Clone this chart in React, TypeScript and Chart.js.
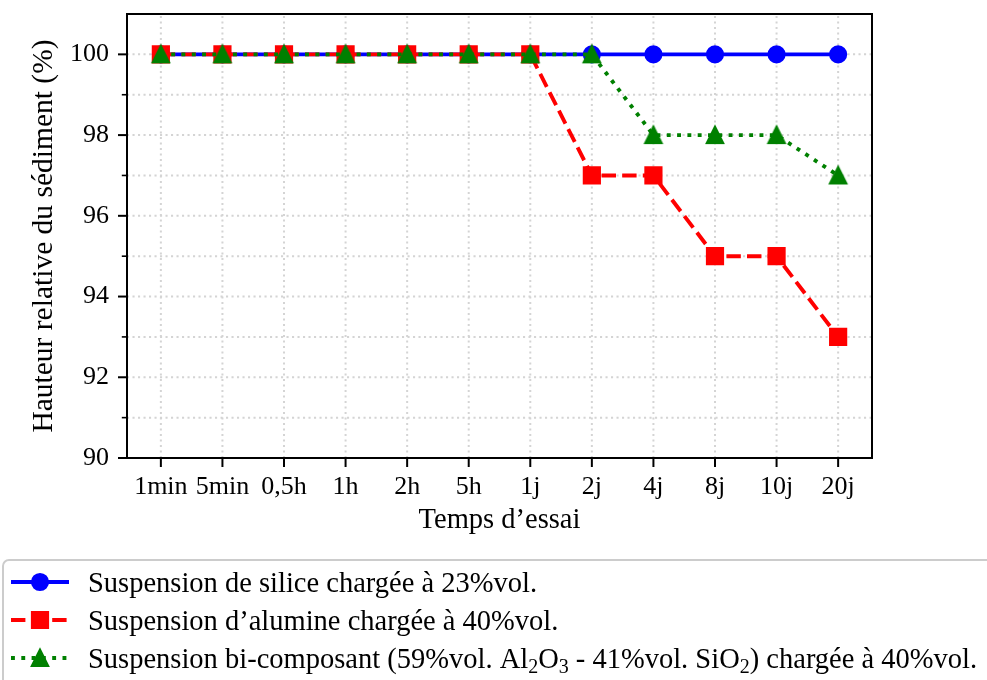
import React, { useEffect, useRef } from 'react';
import { Chart, registerables } from 'chart.js';

Chart.register(...registerables);

const categories = ['1min', '5min', '0,5h', '1h', '2h', '5h', '1j', '2j', '4j', '8j', '10j', '20j'];
const silice = [100, 100, 100, 100, 100, 100, 100, 100, 100, 100, 100, 100];
const alumine = [100, 100, 100, 100, 100, 100, 100, 97, 97, 95, 95, 93];
const biComposant = [100, 100, 100, 100, 100, 100, 100, 100, 98, 98, 98, 97];
const yTickLabels = [90, 92, 94, 96, 98, 100];
const yGridValues = [91, 92, 93, 94, 95, 96, 97, 98, 99, 100];
const yMin = 90;
const yMax = 101;
const xMin = -0.55;
const xMax = 11.55;
const xTitle = 'Temps d’essai';
const yTitle = 'Hauteur relative du sédiment (%)';

type Seg = { t: string; sub?: boolean };
const legendSilice: Seg[] = [{ t: 'Suspension de silice chargée à 23%vol.' }];
const legendAlumine: Seg[] = [{ t: 'Suspension d’alumine chargée à 40%vol.' }];
const legendBi: Seg[] = [
  { t: 'Suspension bi-composant (59%vol. Al' },
  { t: '2', sub: true },
  { t: 'O' },
  { t: '3', sub: true },
  { t: ' - 41%vol. SiO' },
  { t: '2', sub: true },
  { t: ') chargée à 40%vol.' },
];

const FONT = '"Liberation Serif", "Times New Roman", serif';
const FS = 26;
const FS_TEXT = 28.5;
const FS_YTITLE = 29.5;
const BLUE = '#0000ff';
const RED = '#ff0000';
const GREEN = '#008000';
const LW = 3.9;
const MEW = 2.6;
const MS = 15.6;
const RED_DASH = [14.4, 6.2];
const GREEN_DASH = [3.9, 6.4];

function makeTriangle(color: string): HTMLCanvasElement {
  const c = document.createElement('canvas');
  c.width = 28;
  c.height = 28;
  const g = c.getContext('2d')!;
  const cx = 14, cy = 14, h = MS / 2;
  g.beginPath();
  g.moveTo(cx, cy - h);
  g.lineTo(cx - h, cy + h);
  g.lineTo(cx + h, cy + h);
  g.closePath();
  g.fillStyle = color;
  g.fill();
  g.lineWidth = MEW;
  g.lineJoin = 'miter';
  g.strokeStyle = color;
  g.stroke();
  return c;
}

function drawMarker(ctx: CanvasRenderingContext2D, kind: string, x: number, y: number, color: string) {
  ctx.save();
  ctx.setLineDash([]);
  ctx.fillStyle = color;
  ctx.strokeStyle = color;
  ctx.lineWidth = MEW;
  ctx.lineJoin = 'miter';
  const h = MS / 2;
  ctx.beginPath();
  if (kind === 'circle') {
    ctx.arc(x, y, h, 0, Math.PI * 2);
  } else if (kind === 'rect') {
    ctx.rect(x - h, y - h, MS, MS);
  } else {
    ctx.moveTo(x, y - h);
    ctx.lineTo(x - h, y + h);
    ctx.lineTo(x + h, y + h);
    ctx.closePath();
  }
  ctx.fill();
  ctx.stroke();
  ctx.restore();
}

const mplPlugin = {
  id: 'mplLook',
  beforeDatasetsDraw(chart: any) {
    const { ctx, chartArea: ca, scales } = chart;
    const x = scales.x, y = scales.y;
    ctx.save();
    ctx.strokeStyle = '#d4d4d4';
    ctx.lineWidth = 2;
    ctx.setLineDash([2.1, 3.4]);
    categories.forEach((_, i) => {
      const px = x.getPixelForValue(i);
      ctx.beginPath();
      ctx.moveTo(px, ca.bottom);
      ctx.lineTo(px, ca.top);
      ctx.stroke();
    });
    yGridValues.forEach((v) => {
      const py = y.getPixelForValue(v);
      ctx.beginPath();
      ctx.moveTo(ca.left, py);
      ctx.lineTo(ca.right, py);
      ctx.stroke();
    });
    ctx.restore();
  },
  afterDraw(chart: any) {
    const { ctx, chartArea: ca, scales } = chart;
    const x = scales.x, y = scales.y;
    ctx.save();
    ctx.setLineDash([]);
    // frame
    ctx.strokeStyle = '#000';
    ctx.lineWidth = 2;
    ctx.strokeRect(ca.left, ca.top, ca.right - ca.left, ca.bottom - ca.top);
    // x ticks
    categories.forEach((_, i) => {
      const px = x.getPixelForValue(i);
      ctx.beginPath();
      ctx.moveTo(px, ca.bottom);
      ctx.lineTo(px, ca.bottom + 9);
      ctx.stroke();
    });
    // y ticks (major + minor)
    for (let v = yMin; v <= 100; v++) {
      const py = y.getPixelForValue(v);
      const major = v % 2 === 0;
      ctx.lineWidth = major ? 2 : 1.6;
      ctx.beginPath();
      ctx.moveTo(ca.left, py);
      ctx.lineTo(ca.left - (major ? 9 : 5.2), py);
      ctx.stroke();
    }
    // titles
    ctx.fillStyle = '#000';
    ctx.textAlign = 'center';
    ctx.textBaseline = 'middle';
    ctx.font = `${FS_TEXT}px ${FONT}`;
    ctx.fillText(xTitle, (ca.left + ca.right) / 2, 521);
    ctx.save();
    ctx.font = `${FS_YTITLE}px ${FONT}`;
    ctx.translate(44, (ca.top + ca.bottom) / 2);
    ctx.rotate(-Math.PI / 2);
    ctx.fillText(yTitle, 0, 0);
    ctx.restore();

    // legend
    ctx.save();
    ctx.beginPath();
    ctx.roundRect(3, 560, 1100, 200, 6);
    ctx.fillStyle = 'rgba(255,255,255,0.8)';
    ctx.fill();
    ctx.strokeStyle = '#cccccc';
    ctx.lineWidth = 2;
    ctx.stroke();
    ctx.restore();

    const rows = [
      { color: BLUE, dash: [] as number[], marker: 'circle', segs: legendSilice, y: 582 },
      { color: RED, dash: RED_DASH, marker: 'rect', segs: legendAlumine, y: 620 },
      { color: GREEN, dash: GREEN_DASH, marker: 'triangle', segs: legendBi, y: 658 },
    ];
    rows.forEach((r) => {
      ctx.save();
      ctx.strokeStyle = r.color;
      ctx.lineWidth = LW;
      ctx.lineCap = 'butt';
      ctx.setLineDash(r.dash);
      ctx.beginPath();
      ctx.moveTo(11, r.y);
      ctx.lineTo(69, r.y);
      ctx.stroke();
      ctx.restore();
      drawMarker(ctx, r.marker, 40, r.y, r.color);
      let tx = 88;
      const base = r.y + 10;
      ctx.fillStyle = '#000';
      ctx.textAlign = 'left';
      ctx.textBaseline = 'alphabetic';
      r.segs.forEach((s) => {
        if (s.sub) {
          ctx.font = `${Math.round(FS_TEXT * 0.7)}px ${FONT}`;
          ctx.fillText(s.t, tx, base + 5);
        } else {
          ctx.font = `${FS_TEXT}px ${FONT}`;
          ctx.fillText(s.t, tx, base);
        }
        tx += ctx.measureText(s.t).width;
      });
    });
    ctx.restore();
  },
};

export default function App() {
  const ref = useRef<HTMLCanvasElement | null>(null);
  useEffect(() => {
    document.body.style.margin = '0';
    const canvas = ref.current;
    if (!canvas) return;
    const tri = makeTriangle(GREEN);
    const toPts = (arr: number[]) => arr.map((v, i) => ({ x: i, y: v }));
    const chart = new Chart(canvas, {
      type: 'line',
      data: {
        datasets: [
          {
            label: 'silice',
            data: toPts(silice),
            borderColor: BLUE,
            backgroundColor: BLUE,
            borderWidth: LW,
            pointStyle: 'circle',
            pointRadius: MS / 2,
            pointBorderWidth: MEW,
            pointBackgroundColor: BLUE,
            pointBorderColor: BLUE,
            tension: 0,
            order: 2,
          },
          {
            label: 'alumine',
            data: toPts(alumine),
            borderColor: RED,
            backgroundColor: RED,
            borderWidth: LW,
            borderDash: RED_DASH,
            borderCapStyle: 'butt',
            pointStyle: 'rect',
            pointRadius: MS / Math.SQRT2,
            pointBorderWidth: MEW,
            pointBackgroundColor: RED,
            pointBorderColor: RED,
            tension: 0,
            order: 1,
          },
          {
            label: 'bi',
            data: toPts(biComposant),
            borderColor: GREEN,
            backgroundColor: GREEN,
            borderWidth: LW,
            borderDash: GREEN_DASH,
            borderCapStyle: 'butt',
            pointStyle: tri,
            pointRadius: 10,
            pointBorderWidth: 0,
            pointBackgroundColor: GREEN,
            pointBorderColor: GREEN,
            tension: 0,
            order: 0,
          },
        ],
      } as any,
      options: {
        animation: false,
        responsive: true,
        maintainAspectRatio: false,
        events: [],
        layout: { padding: { left: 0, top: 14, right: 115, bottom: 0 } },
        plugins: { legend: { display: false }, tooltip: { enabled: false } },
        scales: {
          x: {
            type: 'linear',
            min: xMin,
            max: xMax,
            grid: { display: false, drawTicks: false },
            border: { display: false },
            afterBuildTicks: (s: any) => {
              s.ticks = categories.map((_, i) => ({ value: i }));
            },
            afterFit: (s: any) => {
              s.height = 222;
              s.paddingLeft = 0;
              s.paddingRight = 0;
            },
            ticks: {
              autoSkip: false,
              maxRotation: 0,
              minRotation: 0,
              padding: 16,
              color: '#000',
              font: { family: FONT, size: FS, lineHeight: 1 },
              callback: (v: any) => categories[Math.round(Number(v))] ?? '',
            },
          },
          y: {
            type: 'linear',
            min: yMin,
            max: yMax,
            grid: { display: false, drawTicks: false },
            border: { display: false },
            afterBuildTicks: (s: any) => {
              s.ticks = yTickLabels.map((v) => ({ value: v }));
            },
            afterFit: (s: any) => {
              s.width = 127;
              s.paddingTop = 0;
              s.paddingBottom = 0;
            },
            ticks: {
              padding: 18,
              color: '#000',
              font: { family: FONT, size: FS, lineHeight: 1 },
              callback: (v: any) => String(v),
            },
          },
        },
      } as any,
      plugins: [mplPlugin],
    });
    return () => chart.destroy();
  }, []);
  return (
    <div style={{ position: 'fixed', left: 0, top: 0, width: 987, height: 680, background: '#fff' }}>
      <canvas ref={ref} />
    </div>
  );
}
